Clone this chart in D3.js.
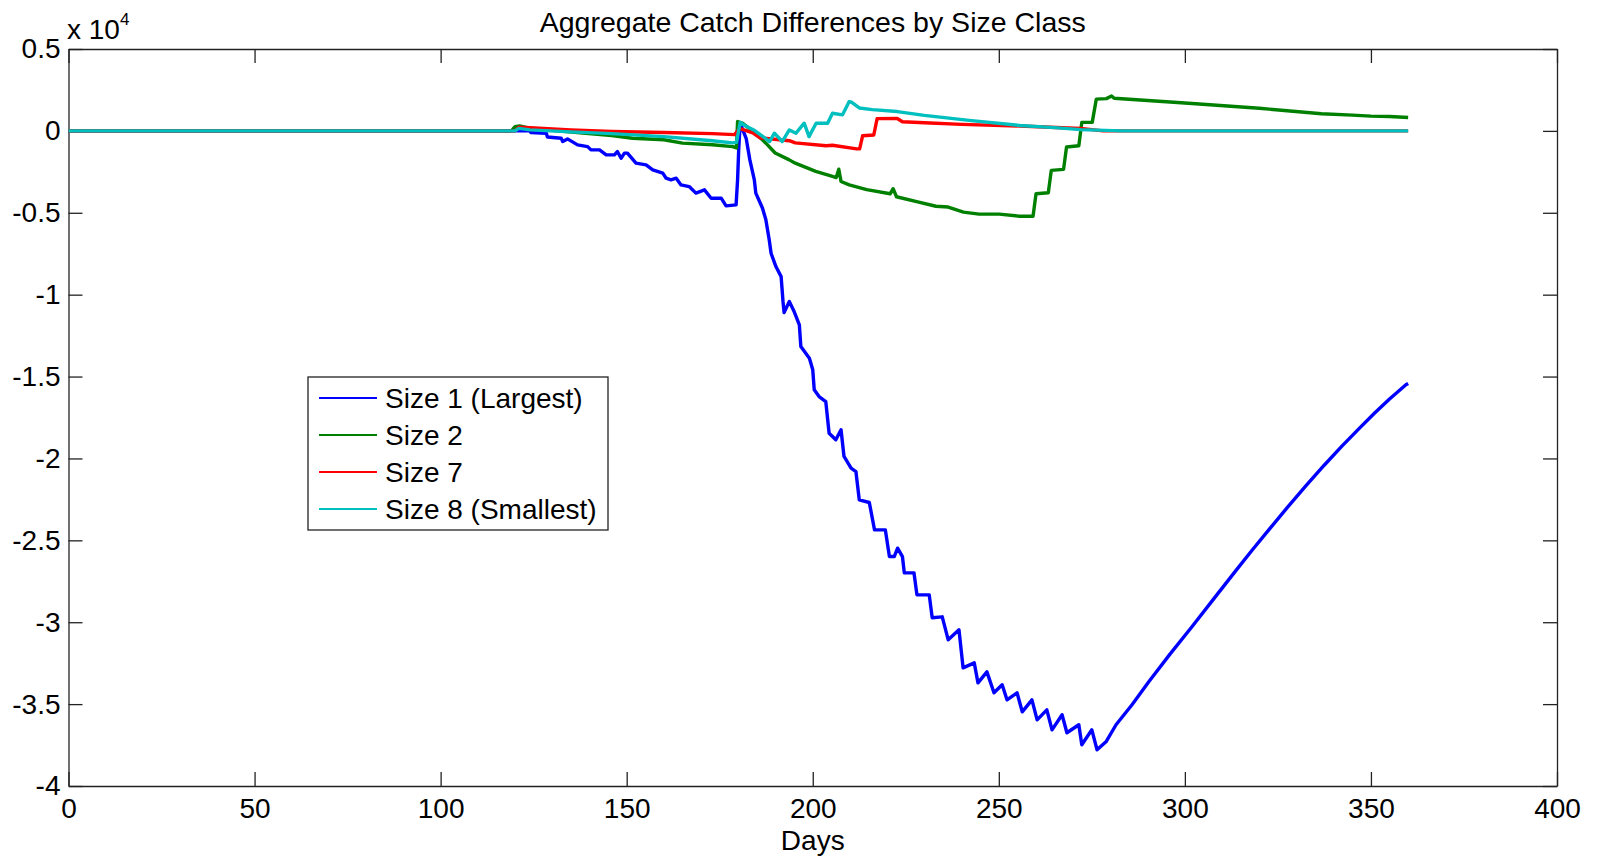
<!DOCTYPE html>
<html>
<head>
<meta charset="utf-8">
<script src="https://cdn.jsdelivr.net/npm/d3@7"></script>
<style>
  body { margin: 0; background: #fff; }
  svg { display: block; font-family: Arial, "Liberation Sans", Helvetica, sans-serif; }
  .tick text { font-size: 28px; fill: #000; }
</style>
</head>
<body>
<div id="chart"></div>
<script>
// data: [day, catch difference]
var size1 = [[0,0],[120,0],[123.9,0],[124.3,-100],[128.4,-140],[128.7,-370],[132.4,-450],[132.8,-650],[134.1,-490],[136.8,-855],[139.5,-960],[140.4,-1160],[142.7,-1160],[144.5,-1465],[146.7,-1465],[147.5,-1260],[148.5,-1670],[149.4,-1360],[150.2,-1360],[152.5,-1970],[155.2,-2075],[157.0,-2380],[159.7,-2580],[160.6,-2890],[161.9,-2990],[163.3,-2890],[164.6,-3300],[166.8,-3400],[168.6,-3800],[170.9,-3600],[172.7,-4110],[175.4,-4110],[176.7,-4580],[179.4,-4520],[179.8,-2990],[180.1,-1160],[180.5,470],[181.2,60],[182.1,-450],[183.1,-1770],[184.3,-2990],[184.7,-3800],[186.5,-4720],[187.4,-5430],[188.3,-6650],[188.8,-7470],[190.1,-8285],[191.5,-8900],[192.0,-10400],[192.3,-11090],[193.7,-10420],[195.0,-11030],[196.4,-11840],[196.8,-13170],[199.1,-13880],[200,-14590],[200.4,-15810],[201.7,-16220],[203.5,-16530],[204.4,-18460],[206.2,-18860],[207.6,-18250],[208.4,-19880],[210.3,-20590],[211.6,-20800],[212.5,-22530],[215.2,-22690],[216.6,-24360],[219.5,-24360],[220.6,-25990],[221.9,-25990],[222.8,-25480],[224.1,-25990],[224.6,-26985],[227.2,-26985],[228.0,-28330],[231.3,-28330],[232.1,-29730],[234.8,-29670],[236.4,-31075],[239.3,-30465],[240.4,-32785],[243.4,-32480],[244.4,-33700],[246.8,-33030],[248.7,-34310],[250.9,-33820],[252.2,-34740],[254.9,-34310],[256.3,-35470],[258.9,-34740],[260.3,-35960],[262.9,-35350],[264.3,-36570],[267.0,-35650],[268.3,-36750],[271.5,-36260],[272.3,-37480],[275.0,-36570],[276.4,-37790],[278.8,-37300],[281.5,-36260],[285.8,-35040],[290.3,-33640],[296,-31950],[301.9,-30280],[307.8,-28560],[313.7,-26850],[318,-25620],[322.6,-24350],[327.5,-23000],[332.5,-21680],[337.5,-20400],[342.2,-19250],[347,-18130],[351,-17230],[355,-16370],[359.4,-15500],[360,-15420]];

var size2 = [[0,0],[119,0],[120,260],[121.2,300],[123.9,160],[130,40],[138.2,-140],[146,-290],[151.6,-450],[160,-540],[165,-750],[173,-850],[178.5,-960],[179.5,-1040],[179.8,570],[181.1,470],[184.4,-100],[187.4,-750],[189.9,-1350],[193.7,-1770],[195.3,-1970],[200.8,-2470],[205.3,-2780],[206.3,-2850],[207.0,-2340],[207.6,-3090],[209.8,-3300],[214.5,-3590],[220.8,-3840],[221.6,-3530],[222.5,-4020],[228.2,-4340],[233.1,-4600],[236.4,-4650],[240.5,-4960],[244.7,-5080],[250.1,-5080],[255.6,-5210],[259.2,-5210],[260,-3840],[263.3,-3780],[264.1,-2410],[267.4,-2350],[268.2,-980],[271.5,-910],[272.3,520],[275.1,520],[276.2,1940],[278.9,1970],[280.3,2130],[281,1990],[300,1700],[320,1380],[336.7,1050],[345,960],[350,900],[355,880],[360,820]];

var size7 = [[0,0],[120,0],[121,220],[124,200],[135,60],[146,-40],[160,-100],[173,-170],[179,-230],[180.3,150],[181.5,60],[183.9,-120],[185.8,-420],[193.7,-600],[195.3,-730],[203.6,-910],[205.3,-880],[211.8,-1100],[212.6,-1100],[213.4,-300],[216.4,-250],[217.3,750],[222.7,760],[224.1,560],[230,500],[240,400],[255.6,300],[272,150],[278,0],[360,0]];

var size8 = [[0,0],[120,0],[121,150],[124,60],[135,-60],[146,-170],[160,-350],[173,-600],[178.4,-730],[179.5,-700],[180.5,520],[182,300],[184.4,20],[188.4,-650],[189.7,-140],[191.8,-650],[193.7,60],[195.5,-140],[197.7,470],[199,-350],[200.9,470],[204,470],[205.3,1080],[208,980],[209.8,1790],[210.4,1760],[212.5,1400],[216,1300],[222.7,1180],[230,950],[242,640],[255.6,330],[265,200],[272,80],[283,0],[360,0]];

var seriesNames = ["Size 1 (Largest)", "Size 2", "Size 7", "Size 8 (Smallest)"];
var seriesColors = ["#0000ff", "#008000", "#ff0000", "#00bfbf"];
var xTicks = [0, 50, 100, 150, 200, 250, 300, 350, 400];
var yTicks = [5000, 0, -5000, -10000, -15000, -20000, -25000, -30000, -35000, -40000];

var W = 1598, H = 858;
var margin = {top: 49, right: 41, bottom: 72, left: 68.5},
    width = W - margin.left - margin.right,
    height = H - margin.top - margin.bottom;

var svg = d3.select("#chart").append("svg")
    .attr("width", W)
    .attr("height", H);

var g = svg.append("g")
    .attr("transform", "translate(" + margin.left + "," + margin.top + ")");

var x = d3.scaleLinear().domain([0, 400]).range([0, width]);
var y = d3.scaleLinear().domain([-40000, 5000]).range([height, 0]);

// axes, ticks pointing inwards on all four sides
g.append("g")
    .attr("class", "axis")
    .attr("transform", "translate(0," + height + ")")
    .call(d3.axisBottom(x).tickValues(xTicks).tickSizeInner(-14).tickSizeOuter(0).tickPadding(12));
g.append("g")
    .attr("class", "axis")
    .call(d3.axisTop(x).tickValues(xTicks).tickSizeInner(-14).tickSizeOuter(0).tickFormat(""));
g.append("g")
    .attr("class", "axis")
    .call(d3.axisLeft(y).tickValues(yTicks).tickSizeInner(-14).tickSizeOuter(0).tickPadding(8)
      .tickFormat(function(d) { return String(d / 10000); }));
g.append("g")
    .attr("class", "axis")
    .attr("transform", "translate(" + width + ",0)")
    .call(d3.axisRight(y).tickValues(yTicks).tickSizeInner(-14).tickSizeOuter(0).tickFormat(""));

g.selectAll(".axis path, .axis line").attr("stroke", "#222").attr("stroke-width", 1.3);
g.selectAll(".axis text").attr("font-family", null);

// the lines, drawn in plot order
var line = d3.line()
    .x(function(d) { return x(d[0]); })
    .y(function(d) { return y(d[1]); });

[size1, size2, size7, size8].forEach(function(s, i) {
  g.append("path")
    .datum(s)
    .attr("fill", "none")
    .attr("stroke", seriesColors[i])
    .attr("stroke-width", 3.4)
    .attr("stroke-linejoin", "round")
    .attr("d", line);
});

// title and labels
svg.append("text")
    .attr("x", margin.left + width / 2)
    .attr("y", 32)
    .attr("text-anchor", "middle")
    .attr("font-size", "28.5px")
    .text("Aggregate Catch Differences by Size Class");

svg.append("text")
    .attr("x", margin.left + width / 2)
    .attr("y", 850)
    .attr("text-anchor", "middle")
    .attr("font-size", "28px")
    .text("Days");

var exp = svg.append("text")
    .attr("x", 67)
    .attr("y", 39)
    .attr("font-size", "28px");
exp.append("tspan").text("x 10");
exp.append("tspan").attr("font-size", "17px").attr("dy", -14).text("4");

// legend
var lg = svg.append("g").attr("transform", "translate(308,377)");
lg.append("rect")
    .attr("width", 300)
    .attr("height", 153)
    .attr("fill", "#fff")
    .attr("stroke", "#222")
    .attr("stroke-width", 1.3);

seriesNames.forEach(function(name, i) {
  var cy = 21 + i * 37;
  lg.append("line")
    .attr("x1", 11).attr("x2", 69)
    .attr("y1", cy).attr("y2", cy)
    .attr("stroke", seriesColors[i])
    .attr("stroke-width", 2.2);
  lg.append("text")
    .attr("x", 77)
    .attr("y", cy)
    .attr("dy", "0.35em")
    .attr("font-size", "28px")
    .text(name);
});
</script>
</body>
</html>
